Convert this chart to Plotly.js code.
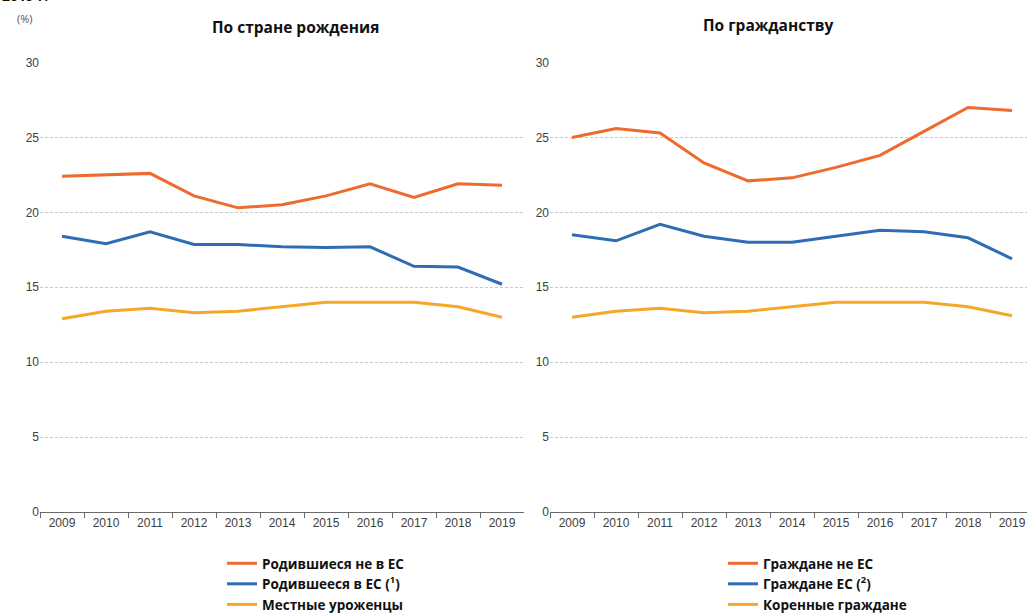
<!DOCTYPE html>
<html>
<head>
<meta charset="utf-8">
<script src="https://cdn.plot.ly/plotly-3.0.1.min.js"></script>
<style>html,body{margin:0;padding:0;background:#fff;}#chart{width:1027px;height:614px;}</style>
</head>
<body>
<div id="chart"></div>
<script>
const years = ['2009','2010','2011','2012','2013','2014','2015','2016','2017','2018','2019'];
const yTicks = [0, 5, 10, 15, 20, 25, 30];

// По стране рождения
const birthNonEU = [22.4, 22.5, 22.6, 21.1, 20.3, 20.5, 21.1, 21.9, 21.0, 21.9, 21.8];
const birthEU    = [18.4, 17.9, 18.7, 17.85, 17.85, 17.7, 17.65, 17.7, 16.4, 16.35, 15.2];
const birthNative= [12.9, 13.4, 13.6, 13.3, 13.4, 13.7, 14.0, 14.0, 14.0, 13.7, 13.0];

// По гражданству
const citNonEU  = [25.0, 25.6, 25.3, 23.3, 22.1, 22.3, 23.0, 23.8, 25.4, 27.0, 26.8];
const citEU     = [18.5, 18.1, 19.2, 18.4, 18.0, 18.0, 18.4, 18.8, 18.7, 18.3, 16.9];
const citNative = [13.0, 13.4, 13.6, 13.3, 13.4, 13.7, 14.0, 14.0, 14.0, 13.7, 13.1];

const names1 = ['Родившиеся не в ЕС', 'Родившееся в ЕС (<sup>1</sup>)', 'Местные уроженцы'];
const names2 = ['Граждане не ЕС', 'Граждане ЕС (<sup>2</sup>)', 'Коренные граждане'];
const titles = ['По стране рождения', 'По гражданству'];

const colors = ['#EE6A2E', '#2E6DB4', '#F6A72A'];
const W = 1027, H = 614;

function tr(y, name, c, xa, ya, lg) {
  return {x: years, y: y, name: name, type: 'scatter', mode: 'lines',
    line: {color: c, width: 3}, xaxis: xa, yaxis: ya, legend: lg, hoverinfo: 'skip'};
}
const data = [
  tr(birthNonEU, names1[0], colors[0], 'x', 'y', 'legend'),
  tr(birthEU, names1[1], colors[1], 'x', 'y', 'legend'),
  tr(birthNative, names1[2], colors[2], 'x', 'y', 'legend'),
  tr(citNonEU, names2[0], colors[0], 'x2', 'y2', 'legend2'),
  tr(citEU, names2[1], colors[1], 'x2', 'y2', 'legend2'),
  tr(citNative, names2[2], colors[2], 'x2', 'y2', 'legend2')
];

const tickFont = {family: 'Liberation Sans, Arial, sans-serif', size: 12, color: '#404040'};
function xax(domain, range, anchor) {
  return {domain: domain, range: range, type: 'category', anchor: anchor,
    showline: true, linecolor: '#6b6b6b', linewidth: 1,
    ticks: 'outside', tickson: 'boundaries', ticklen: 5, tickcolor: '#6b6b6b',
    showgrid: false, zeroline: false, tickfont: tickFont, fixedrange: true};
}
function yax(domain, anchor) {
  return {domain: domain, range: [0, 30], tickvals: yTicks, anchor: anchor,
    showline: false, ticks: '', showgrid: true, gridcolor: '#c9c9c9', gridwidth: 1,
    griddash: '3px,2px', zeroline: false, tickfont: tickFont, fixedrange: true};
}
const ydom = [102 / H, 551.5 / H];
const legFont = {family: 'Open Sans, sans-serif', size: 13.5, color: '#111', weight: 'bold'};

const layout = {
  width: W, height: H,
  margin: {l: 0, r: 0, t: 0, b: 0, autoexpand: false},
  paper_bgcolor: '#fff', plot_bgcolor: '#fff',
  showlegend: true,
  xaxis: xax([40 / W, 524 / W], [-0.5, 10.5], 'y'),
  yaxis: yax(ydom, 'x'),
  xaxis2: xax([550 / W, 1], [-0.5, 10.34], 'y2'),
  yaxis2: yax(ydom, 'x2'),
  legend: {x: 222 / W, y: 1 - 548 / H, xanchor: 'left', yanchor: 'top',
    orientation: 'v', font: legFont, bgcolor: 'rgba(0,0,0,0)', traceorder: 'normal'},
  legend2: {x: 723 / W, y: 1 - 548 / H, xanchor: 'left', yanchor: 'top',
    orientation: 'v', font: legFont, bgcolor: 'rgba(0,0,0,0)', traceorder: 'normal'},
  annotations: [
    {text: titles[0], xref: 'paper', yref: 'paper', x: 295 / W, y: 1 - 27 / H,
      xanchor: 'center', yanchor: 'middle', showarrow: false,
      font: {family: 'Open Sans, sans-serif', size: 15.5, color: '#111', weight: 'bold'}},
    {text: titles[1], xref: 'paper', yref: 'paper', x: 768 / W, y: 1 - 25 / H,
      xanchor: 'center', yanchor: 'middle', showarrow: false,
      font: {family: 'Open Sans, sans-serif', size: 15.5, color: '#111', weight: 'bold'}},
    {text: '(%)', xref: 'paper', yref: 'paper', x: 25 / W, y: 1 - 18 / H,
      xanchor: 'center', yanchor: 'middle', showarrow: false,
      font: {family: 'Open Sans, sans-serif', size: 11, color: '#4a5568'}},
    {text: '2019 г.', xref: 'paper', yref: 'paper', x: 0, y: 1, yshift: 5,
      xanchor: 'left', yanchor: 'middle', showarrow: false,
      font: {family: 'Open Sans, sans-serif', size: 14, color: '#111', weight: 'bold'}}
  ]
};

Plotly.newPlot('chart', data, layout, {displayModeBar: false, staticPlot: true});
</script>
</body>
</html>
